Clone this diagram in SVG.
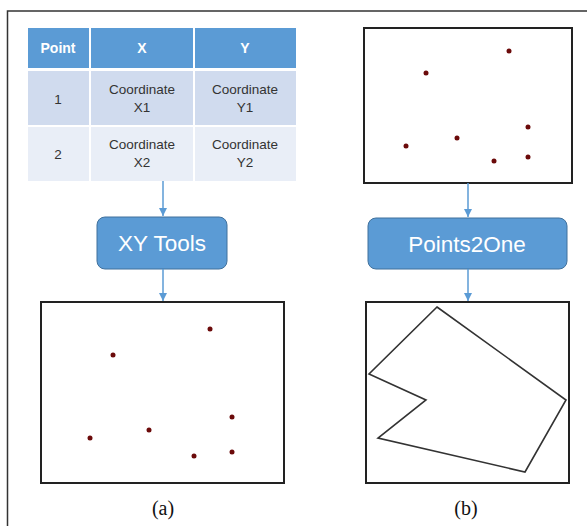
<svg xmlns="http://www.w3.org/2000/svg" width="587" height="526" viewBox="0 0 587 526">
<defs>
<style>
.frame{stroke:#333;stroke-width:1.5;fill:none}
.hdr{fill:#5B9BD5}
.r1{fill:#D0DBEE}
.r2{fill:#E9EEF7}
.ht{font-family:"Liberation Sans",Arial,sans-serif;font-size:14px;font-weight:bold;fill:#fff;text-anchor:middle}
.ct{font-family:"Liberation Sans",Arial,sans-serif;font-size:13.5px;fill:#333;text-anchor:middle}
.box{fill:#5B9BD5;stroke:#41719C;stroke-width:1}
.bt{font-family:"Liberation Sans",Arial,sans-serif;font-size:22.5px;fill:#fff;text-anchor:middle}
.panel{fill:#fff;stroke:#222;stroke-width:2}
.dot{fill:#6B0A0A}
.conn{stroke:#5B9BD5;stroke-width:1.5;fill:none}
.cap{font-family:"Liberation Serif","Times New Roman",serif;font-size:20px;fill:#111;text-anchor:middle}
</style>
<marker id="arr" markerWidth="10" markerHeight="10" refX="9" refY="5" orient="auto" markerUnits="userSpaceOnUse">
<path d="M1,1 L9,5 L1,9 z" fill="#5B9BD5"/>
</marker>
</defs>
<rect width="587" height="526" fill="#fff"/>
<path class="frame" d="M7.5,526 V11 H587"/>

<g id="table">
<rect class="hdr" x="28" y="28" width="61" height="40"/>
<rect class="hdr" x="91" y="28" width="102" height="40"/>
<rect class="hdr" x="195" y="28" width="101" height="40"/>
<rect class="r1" x="28" y="71" width="61" height="54"/>
<rect class="r1" x="91" y="71" width="102" height="54"/>
<rect class="r1" x="195" y="71" width="101" height="54"/>
<rect class="r2" x="28" y="127" width="61" height="54"/>
<rect class="r2" x="91" y="127" width="102" height="54"/>
<rect class="r2" x="195" y="127" width="101" height="54"/>
<text class="ht" x="58" y="53">Point</text>
<text class="ht" x="142" y="53">X</text>
<text class="ht" x="245" y="53">Y</text>
<text class="ct" x="58" y="104">1</text>
<text class="ct" x="142" y="94">Coordinate</text>
<text class="ct" x="142" y="112">X1</text>
<text class="ct" x="245" y="94">Coordinate</text>
<text class="ct" x="245" y="112">Y1</text>
<text class="ct" x="58" y="159">2</text>
<text class="ct" x="142" y="149">Coordinate</text>
<text class="ct" x="142" y="167">X2</text>
<text class="ct" x="245" y="149">Coordinate</text>
<text class="ct" x="245" y="167">Y2</text>
</g>

<g id="xytools">
<rect class="box" x="97" y="217" width="130" height="52" rx="8"/>
<text class="bt" x="162" y="251">XY Tools</text>
</g>

<g id="points-a">
<rect class="panel" x="41" y="302" width="243" height="181"/>
<circle class="dot" cx="113" cy="355" r="2.5"/>
<circle class="dot" cx="210" cy="329" r="2.5"/>
<circle class="dot" cx="90" cy="438" r="2.5"/>
<circle class="dot" cx="149" cy="430" r="2.5"/>
<circle class="dot" cx="194" cy="456" r="2.5"/>
<circle class="dot" cx="232" cy="417" r="2.5"/>
<circle class="dot" cx="232" cy="452" r="2.5"/>
</g>

<g id="points-b">
<rect class="panel" x="364" y="28" width="208" height="155"/>
<circle class="dot" cx="509" cy="51" r="2.5"/>
<circle class="dot" cx="426" cy="73" r="2.5"/>
<circle class="dot" cx="528" cy="127" r="2.5"/>
<circle class="dot" cx="457" cy="138" r="2.5"/>
<circle class="dot" cx="406" cy="146" r="2.5"/>
<circle class="dot" cx="494" cy="161" r="2.5"/>
<circle class="dot" cx="528" cy="157" r="2.5"/>
</g>

<g id="points2one">
<rect class="box" x="368" y="218" width="199" height="51" rx="8"/>
<text class="bt" x="467" y="252">Points2One</text>
</g>

<g id="polygon-b">
<rect class="panel" x="366" y="302" width="203" height="181"/>
<polygon points="437,307 566,400 525,472 378,438 426,400 369,374" fill="none" stroke="#333" stroke-width="1.6" stroke-linejoin="miter"/>
</g>

<g id="connectors">
<line class="conn" x1="163" y1="181" x2="163" y2="216" marker-end="url(#arr)"/>
<line class="conn" x1="163" y1="269" x2="163" y2="301" marker-end="url(#arr)"/>
<line class="conn" x1="468" y1="183" x2="468" y2="217" marker-end="url(#arr)"/>
<line class="conn" x1="468" y1="269" x2="468" y2="301" marker-end="url(#arr)"/>
</g>

<text class="cap" x="163" y="515">(a)</text>
<text class="cap" x="466" y="515">(b)</text>
</svg>
